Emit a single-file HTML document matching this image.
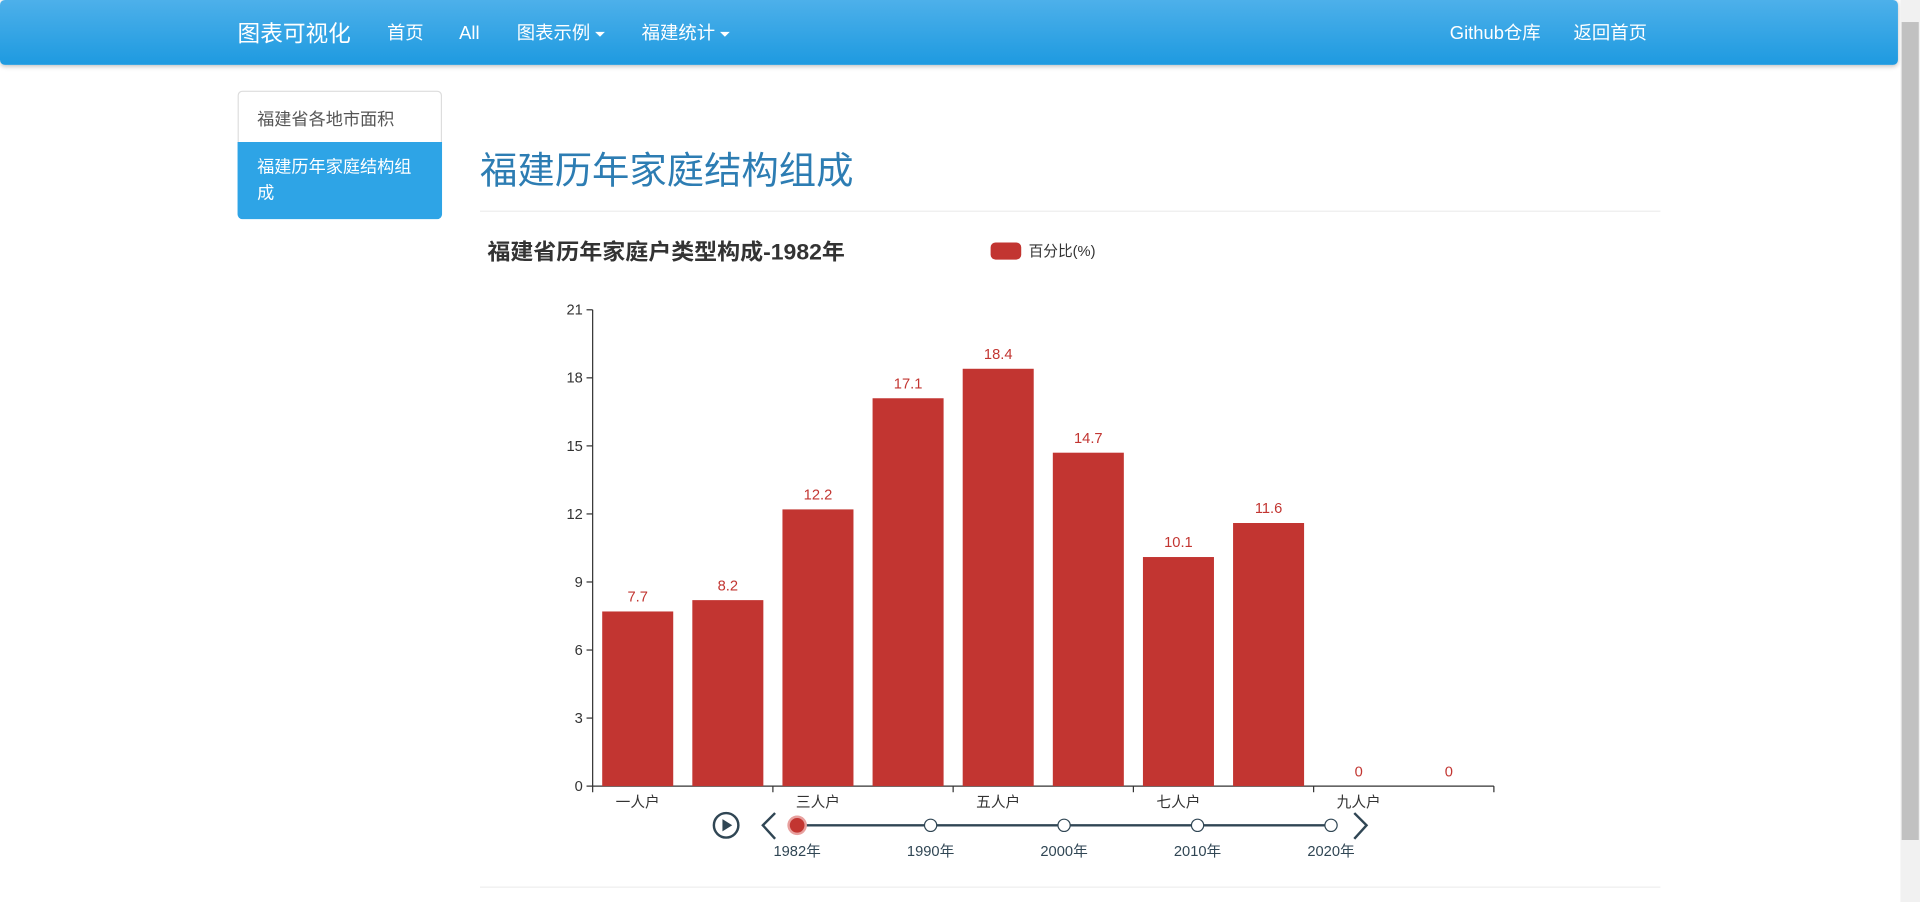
<!DOCTYPE html>
<html><head><meta charset="utf-8">
<style>
html,body{margin:0;padding:0;width:1920px;height:902px;overflow:hidden;background:#fff;font-family:"Liberation Sans","Noto Sans CJK SC",sans-serif;}
#root{position:absolute;left:0;top:0;width:1568px;height:737px;transform:scale(1.22449);transform-origin:0 0;}
.nav{position:absolute;left:0;top:0;width:1550px;height:53px;border-radius:4px;background:linear-gradient(#4db0ea,#1e9ae0);box-shadow:0 1px 4px rgba(0,0,0,.25);color:#fff;}
.nav span{position:absolute;top:19px;font-size:15px;line-height:18px;height:18px;white-space:nowrap;}
.caret{display:inline-block;width:0;height:0;border-left:4px solid transparent;border-right:4px solid transparent;border-top:4px solid #fff;vertical-align:middle;margin-left:4px;}
.side1{position:absolute;left:194px;top:74px;width:167px;height:42px;border:1px solid #ddd;border-bottom:none;border-radius:4px 4px 0 0;font-size:14px;color:#555;box-sizing:border-box;padding:12px 15px;}
.side2{position:absolute;left:194px;top:116px;width:167px;height:63px;background:#2ea4e6;border-radius:0 0 4px 4px;color:#fff;font-size:14px;padding:10px 16px;box-sizing:border-box;line-height:21px;}
.h1{position:absolute;left:392px;top:115px;font-size:30.5px;color:#2d7db3;white-space:nowrap;}
.hr{position:absolute;left:392px;width:964px;height:1px;background:#eee;}
.sb{position:absolute;left:1552px;top:0;width:16px;height:737px;background:#f1f1f1;}
.sbt{position:absolute;left:1553px;top:18px;width:14px;height:668px;background:#c1c1c1;}
</style></head><body>
<div id="root">
<div class="nav">
 <span style="left:194px;top:18px;font-size:18.5px;line-height:20px">图表可视化</span>
 <span style="left:316px">首页</span>
 <span style="left:375px">All</span>
 <span style="left:422px">图表示例<i class="caret"></i></span>
 <span style="left:524px">福建统计<i class="caret"></i></span>
 <span style="left:1184px">Github仓库</span>
 <span style="left:1285px">返回首页</span>
</div>
<div class="side1">福建省各地市面积</div>
<div class="side2">福建历年家庭结构组成</div>
<div class="h1">福建历年家庭结构组成</div>
<div class="hr" style="top:172px"></div>
<div class="hr" style="top:724px"></div>
<svg id="chart" style="position:absolute;left:0;top:0" width="1550" height="737"></svg>
<div class="sb"></div>
<div class="sbt"></div>
</div>
<script>
const categories=["一人户","二人户","三人户","四人户","五人户","六人户","七人户","八人户","九人户","十人户"];
const values=[7.7,8.2,12.2,17.1,18.4,14.7,10.1,11.6,0,0];
const yTicks=[0,3,6,9,12,15,18,21];
const years=["1982年","1990年","2000年","2010年","2020年"];
const NS="http://www.w3.org/2000/svg";
const svg=document.getElementById('chart');
function mk(t,a,txt){const e=document.createElementNS(NS,t);for(const k in a)e.setAttribute(k,a[k]);if(txt!==undefined)e.textContent=txt;svg.appendChild(e);return e;}
const X0=484,X1=1220,Y0=642,Y1=253,yMax=21;
const bw=(X1-X0)/categories.length;
const xs=i=>X0+bw*(i+0.5);
const ys=v=>Y0-v*(Y0-Y1)/yMax;
const F='"Liberation Sans","Noto Sans CJK SC",sans-serif';
let e;
e=mk('text',{x:398,y:212,'font-size':18,'font-weight':'bold',fill:'#333','font-family':F,textLength:292,lengthAdjust:'spacingAndGlyphs'},'福建省历年家庭户类型构成-1982年');


e=mk('rect',{x:809,y:198,width:25,height:14,rx:4,fill:'#c23531'});


e=mk('text',{x:840,y:209,'font-size':12,fill:'#333','font-family':F},'百分比(%)');


mk('line',{x1:X0,y1:Y1,x2:X0,y2:Y0,stroke:'#333'});
mk('line',{x1:X0,y1:Y0,x2:X1,y2:Y0,stroke:'#333'});
yTicks.forEach(t=>{const y=ys(t);mk('line',{x1:X0-5,y1:y,x2:X0,y2:y,stroke:'#333'});
 e=mk('text',{x:X0-8,y:y+4,'font-size':12,fill:'#333','text-anchor':'end','font-family':F},t);
 
 });
for(let i=0;i<=categories.length;i+=2){const x=X0+bw*i;mk('line',{x1:x,y1:Y0,x2:x,y2:Y0+5,stroke:'#333'});}
categories.forEach((c,i)=>{
 if(i%2===0){e=mk('text',{x:xs(i),y:Y0+17,'font-size':12,fill:'#333','text-anchor':'middle','font-family':F},c);
  
  }
 const v=values[i];
 e=mk('rect',{x:xs(i)-29,y:ys(v),width:58,height:Y0-ys(v),fill:'#c23531'});
 
 
 e=mk('text',{x:xs(i),y:ys(v)-8,'font-size':12,fill:'#c23531','text-anchor':'middle','font-family':F},v);
 
 
});
const TX0=651,TX1=1087,TY=674;
mk('line',{x1:TX0,y1:TY,x2:TX1,y2:TY,stroke:'#304654','stroke-width':2});
e=mk('circle',{cx:593,cy:TY,r:10,fill:'none',stroke:'#304654','stroke-width':2});


mk('path',{d:'M590 669 L598 674 L590 679 Z',fill:'#304654'});
e=mk('path',{d:'M633 664 L623 674 L633 685',fill:'none',stroke:'#304654','stroke-width':2});


e=mk('path',{d:'M1106 664 L1116 674 L1106 685',fill:'none',stroke:'#304654','stroke-width':2});


years.forEach((y,i)=>{const x=TX0+(TX1-TX0)*i/(years.length-1);
 if(i===0){mk('circle',{cx:x,cy:TY,r:8,fill:'#e8a09e'});e=mk('circle',{cx:x,cy:TY,r:6,fill:'#c23531'});}
 else e=mk('circle',{cx:x,cy:TY,r:5,fill:'#fff',stroke:'#304654','stroke-width':1});
 
 
 e=mk('text',{x:x,y:TY+25,'font-size':12,fill:'#304654','text-anchor':'middle','font-family':F},y);
 
 
});
</script>
</body></html>
